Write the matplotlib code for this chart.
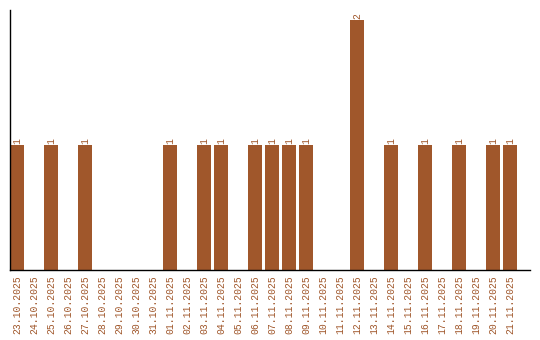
#!/usr/bin/env python3
"""Daily count bar chart, 23.10.2025 – 21.11.2025."""

import matplotlib
matplotlib.use("Agg")
import matplotlib.pyplot as plt

# ───────────── data ─────────────
dates = [
    "23.10.2025", "24.10.2025", "25.10.2025", "26.10.2025", "27.10.2025",
    "28.10.2025", "29.10.2025", "30.10.2025", "31.10.2025", "01.11.2025",
    "02.11.2025", "03.11.2025", "04.11.2025", "05.11.2025", "06.11.2025",
    "07.11.2025", "08.11.2025", "09.11.2025", "10.11.2025", "11.11.2025",
    "12.11.2025", "13.11.2025", "14.11.2025", "15.11.2025", "16.11.2025",
    "17.11.2025", "18.11.2025", "19.11.2025", "20.11.2025", "21.11.2025",
]
counts = [1, 0, 1, 0, 1, 0, 0, 0, 0, 1,
          0, 1, 1, 0, 1, 1, 1, 1, 0, 0,
          2, 0, 1, 0, 1, 0, 1, 0, 1, 1]
# ────────────────────────────────

COLOR = "#A0572B"
FONT = ["Liberation Mono", "DejaVu Sans Mono"]

fig = plt.figure(figsize=(5.4, 3.4), dpi=100)
ax = fig.add_axes([10 / 540, 70 / 340, 520 / 540, 260 / 340])

x = list(range(len(dates)))
bars = ax.bar(x, counts, width=0.82, color=COLOR)

for xi, v in zip(x, counts):
    if v:
        ax.text(xi, v + 0.01, str(v), rotation=90, ha="center", va="bottom",
                color=COLOR, fontsize=7, family=FONT)

ax.set_xlim(-0.41, 30.18)
ax.set_ylim(0, 2.08)
ax.set_xticks(x)
ax.set_xticklabels(dates, rotation=90, color=COLOR, fontsize=7, family=FONT)
ax.tick_params(axis="x", length=0, pad=4)
ax.set_yticks([])

for side in ("top", "right"):
    ax.spines[side].set_visible(False)
ax.spines["left"].set_linewidth(1)
ax.spines["bottom"].set_linewidth(1)

fig.savefig("out.png", dpi=100)
